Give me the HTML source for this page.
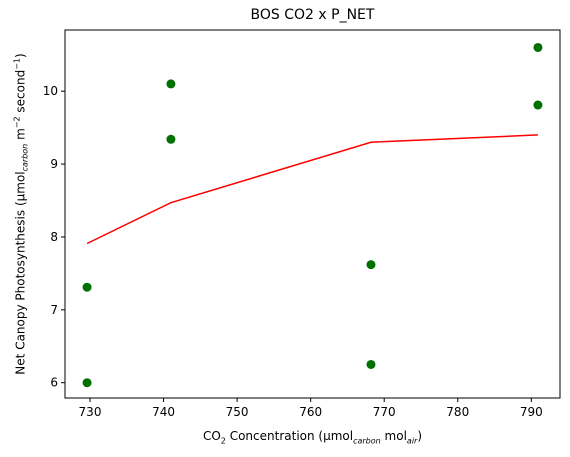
<!DOCTYPE html>
<html><head><meta charset="utf-8"><style>
body{margin:0;background:#fff;}
svg{display:block;font-family:"DejaVu Sans","Liberation Sans",sans-serif;}
</style></head><body>
<svg id="chart" width="570" height="457"></svg>
<script>
const scatterX=[729.6,729.6,741.0,741.0,768.2,768.2,790.9,790.9];
const scatterY=[6.0,7.31,10.1,9.34,7.62,6.25,10.6,9.81];
const lineX=[729.6,741.0,768.2,790.9];
const lineY=[7.91,8.47,9.30,9.40];
const xTicks=[730,740,750,760,770,780,790];
const yTicks=[6,7,8,9,10];
const L=65,R=560,T=30,B=398;
const xMin=726.6,xMax=793.9,yMin=5.79,yMax=10.84;
const sx=v=>L+(v-xMin)/(xMax-xMin)*(R-L);
const sy=v=>B-(v-yMin)/(yMax-yMin)*(B-T);
const svg=document.getElementById('chart');
const NS='http://www.w3.org/2000/svg';
function mk(t,a,p){const e=document.createElementNS(NS,t);for(const k in a)e.setAttribute(k,a[k]);(p||svg).appendChild(e);return e;}
let e;
e=mk('rect',{x:L,y:T,width:R-L,height:B-T,fill:'none',stroke:'#000','stroke-width':1});


xTicks.forEach(t=>{const x=sx(t);
 e=mk('line',{x1:x,x2:x,y1:B,y2:B+4,stroke:'#000'});
 
 
 e=mk('text',{x:x,y:B+18,'text-anchor':'middle','font-size':12});e.textContent=t;
 
 
});
yTicks.forEach(t=>{const y=sy(t);
 e=mk('line',{x1:L-4,x2:L,y1:y,y2:y,stroke:'#000'});
 
 
 e=mk('text',{x:L-7,y:y+4,'text-anchor':'end','font-size':12});e.textContent=t;
 
 
});
e=mk('polyline',{points:lineX.map((v,i)=>sx(v)+','+sy(lineY[i])).join(' '),fill:'none',stroke:'red','stroke-width':1.5});


scatterX.forEach((v,i)=>{
 e=mk('circle',{cx:sx(v),cy:sy(scatterY[i]),r:4.5,fill:'#007000'});
 
 
});
</script>
<div style="position:absolute;left:0;top:0;width:570px;height:457px;pointer-events:none;font-family:'DejaVu Sans','Liberation Sans',sans-serif;">
<div style="position:absolute;left:0;width:625px;top:7px;text-align:center;font-size:14px;">BOS CO2 x P_NET</div>
<div style="position:absolute;left:0;width:625px;top:429px;text-align:center;font-size:12px;">CO<sub style="font-size:8px">2</sub> Concentration (µmol<sub style="font-size:8px;font-style:italic">carbon</sub> mol<sub style="font-size:8px;font-style:italic">air</sub>)</div>
<div style="position:absolute;left:21px;top:214px;width:0;height:0;"><div style="position:absolute;transform:translate(-50%,-50%) rotate(-90deg);white-space:nowrap;font-size:12px;">Net Canopy Photosynthesis (µmol<sub style="font-size:8px;font-style:italic">carbon</sub> m<sup style="font-size:8px">−2</sup> second<sup style="font-size:8px">−1</sup>)</div></div>
</div>
</body></html>
